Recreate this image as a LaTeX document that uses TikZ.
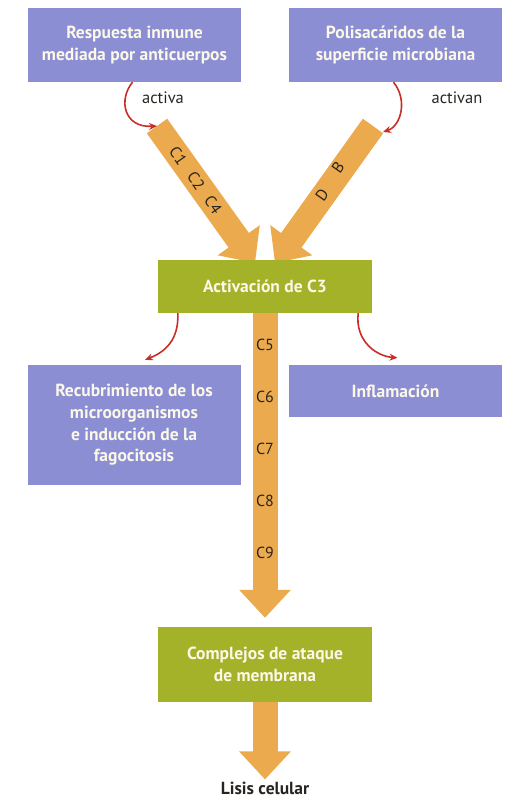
\documentclass[tikz,border=0pt]{standalone}
\usepackage{fontspec}
\setmainfont{PT Sans}
\usepackage{xcolor}
\definecolor{boxblue}{RGB}{140,142,212}
\definecolor{boxgreen}{RGB}{164,178,42}
\definecolor{cascorange}{RGB}{235,170,78}
\definecolor{actred}{RGB}{200,45,40}
\definecolor{boxtext}{RGB}{252,248,232}
\definecolor{darkink}{RGB}{40,36,32}
\usepackage{tikz}
\usetikzlibrary{arrows.meta, positioning, calc}

\tikzset{
    bluebox/.style={fill=boxblue, text=boxtext, font=\fontsize{17.5}{21.7}\selectfont\bfseries,
        align=center, minimum width=213pt, inner sep=0pt},
    greenbox/.style={fill=boxgreen, text=boxtext, font=\fontsize{17.5}{21.7}\selectfont\bfseries,
        align=center, minimum width=214pt, inner sep=0pt},
    fatarrow/.style={draw=cascorange, line width=25pt, -{Triangle[width=50pt,length=28pt]}},
    actarrow/.style={actred, line width=1.6pt, -{Stealth[length=8pt,width=7pt]}},
    clabel/.style={text=darkink, font=\fontsize{16}{18}\selectfont, inner sep=0pt},
    verblabel/.style={text=darkink, font=\fontsize{16.5}{18}\selectfont, inner sep=0pt}
}

\begin{document}
\begin{tikzpicture}[x=1pt, y=-1pt, >=Stealth]
    \useasboundingbox (0,0) rectangle (506,798);

    \node[bluebox, minimum height=74pt] (resp) at (134.5,45) {Respuesta inmune\\mediada por anticuerpos};
    \node[bluebox, minimum height=74pt] (poli) at (395.5,45) {Polisacáridos de la\\superficie microbiana};

    \coordinate (clasica) at (157,126);
    \coordinate (alterna) at (373,126);
    \coordinate (tipL) at (255,263);
    \coordinate (tipR) at (275,263);

    \draw[fatarrow] (clasica) -- (tipL);
    \draw[fatarrow] (alterna) -- (tipR);

    \node[greenbox, minimum height=53pt] (actc3) at (265,286.5) {Activación de C3};
    \node[bluebox, minimum height=120pt] (recub) at (134,425) {Recubrimiento de los\\microorganismos\\e inducción de la\\fagocitosis};
    \node[bluebox, minimum height=52pt] (infl) at (395.5,391) {Inflamación};
    \node[greenbox, minimum height=75pt] (cmplj) at (265,664.5) {Complejos de ataque\\de membrana};
    \node[text=darkink, font=\fontsize{17.5}{20}\selectfont\bfseries, inner sep=0pt] (lisis) at (265,788) {Lisis celular};

    \draw[fatarrow, shorten >=9pt] (actc3.south) -- (cmplj.north);
    \draw[fatarrow, shorten >=2pt] (cmplj.south) -- (lisis.north);

    \draw[actarrow] ($(resp.south)+(-2,0)$) .. controls (118,100) and (124,128) .. (clasica);
    \draw[actarrow] ($(poli.south)+(-2,0)$) .. controls (408,100) and (401,126) .. ($(alterna)+(10,6)$);
    \draw[actarrow] ($(actc3.south west)+(20,0)$) .. controls (179,340) and (165,352) .. ($(recub.north)+(11,-5)$);
    \draw[actarrow] ($(actc3.south east)+(-14,0)$) .. controls (355,340) and (375,356) .. ($(infl.north)+(2,-7)$);

    \node[verblabel] (activa) at (163,98) {activa};
    \node[verblabel] (activan) at (457,98) {activan};

    \node[clabel, rotate=-55] (c1) at (178,156) {C1};
    \node[clabel, rotate=-55] (c2) at (196,181) {C2};
    \node[clabel, rotate=-55] (c4) at (213,205) {C4};
    \node[clabel, rotate=55] (fb) at (338,167) {B};
    \node[clabel, rotate=55] (fd) at (322,195) {D};

    \foreach \c [count=\i] in {5,...,9}
        \node[clabel] (c\c) at (265,{345+52*(\i-1)}) {C\c};
\end{tikzpicture}
\end{document}
